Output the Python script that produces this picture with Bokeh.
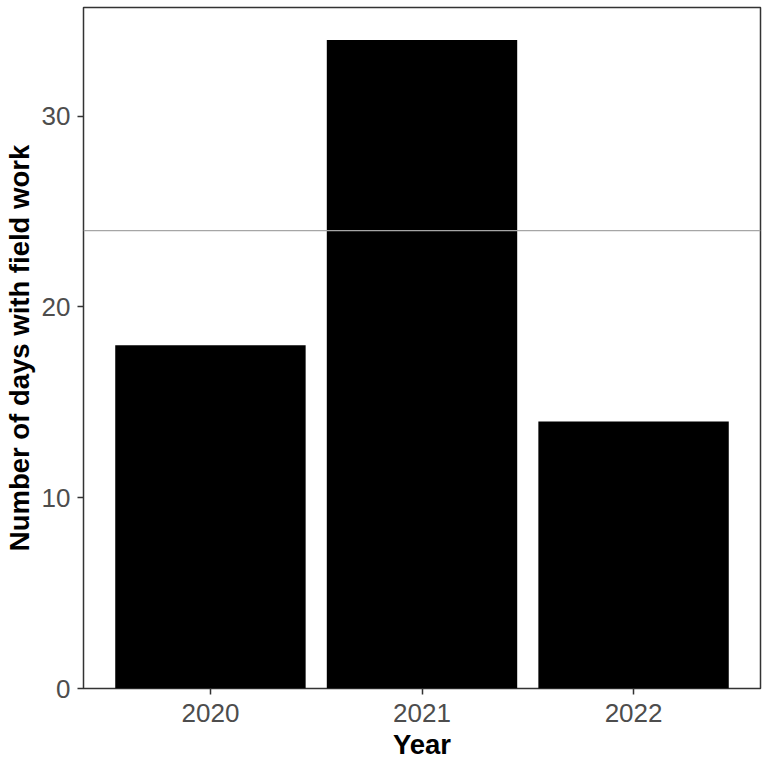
from bokeh.plotting import figure
from bokeh.models import Range1d, FixedTicker, Span
from bokeh.embed import file_html
from bokeh.resources import INLINE

years = ["2020", "2021", "2022"]
days = [18, 34, 14]
mean_line = 24
y_ticks = [0, 10, 20, 30]

xpos = [i + 1 for i in range(len(years))]

p = figure(width=768, height=768, output_backend="svg", toolbar_location=None,
           x_range=Range1d(0.4, 3.6), y_range=Range1d(0, 35.7),
           min_border_left=82, min_border_right=8, min_border_top=7, min_border_bottom=80)

p.vbar(x=xpos, top=days, width=0.9, bottom=0, color="black", line_color=None)
p.add_layout(Span(location=mean_line, dimension="width", line_color="#A6A6A6", line_width=1.2))

p.xgrid.visible = False
p.ygrid.visible = False
p.background_fill_color = "white"
p.border_fill_color = "white"
p.outline_line_color = "#333333"
p.outline_line_width = 1.5

p.xaxis.ticker = FixedTicker(ticks=xpos)
p.xaxis.major_label_overrides = {x: y for x, y in zip(xpos, years)}
p.yaxis.ticker = FixedTicker(ticks=y_ticks)

for ax in (p.xaxis[0], p.yaxis[0]):
    ax.axis_line_color = None
    ax.major_tick_line_color = "#333333"
    ax.major_tick_line_width = 1.5
    ax.major_tick_out = 6
    ax.major_tick_in = 0
    ax.minor_tick_line_color = None
    ax.major_label_text_font = "Liberation Sans"
    ax.major_label_text_font_size = "26px"
    ax.major_label_text_color = "#4D4D4D"
    ax.axis_label_text_font = "Liberation Sans"
    ax.axis_label_text_font_size = "27.5px"
    ax.axis_label_text_font_style = "bold"
    ax.axis_label_text_color = "black"

p.xaxis.axis_label = "Year"
p.yaxis.axis_label = "Number of days with field work"
p.xaxis.major_label_standoff = 9
p.yaxis.major_label_standoff = 7
p.xaxis.axis_label_standoff = 4
p.yaxis.axis_label_standoff = 4

open("out.html", "w").write(file_html(p, INLINE))
